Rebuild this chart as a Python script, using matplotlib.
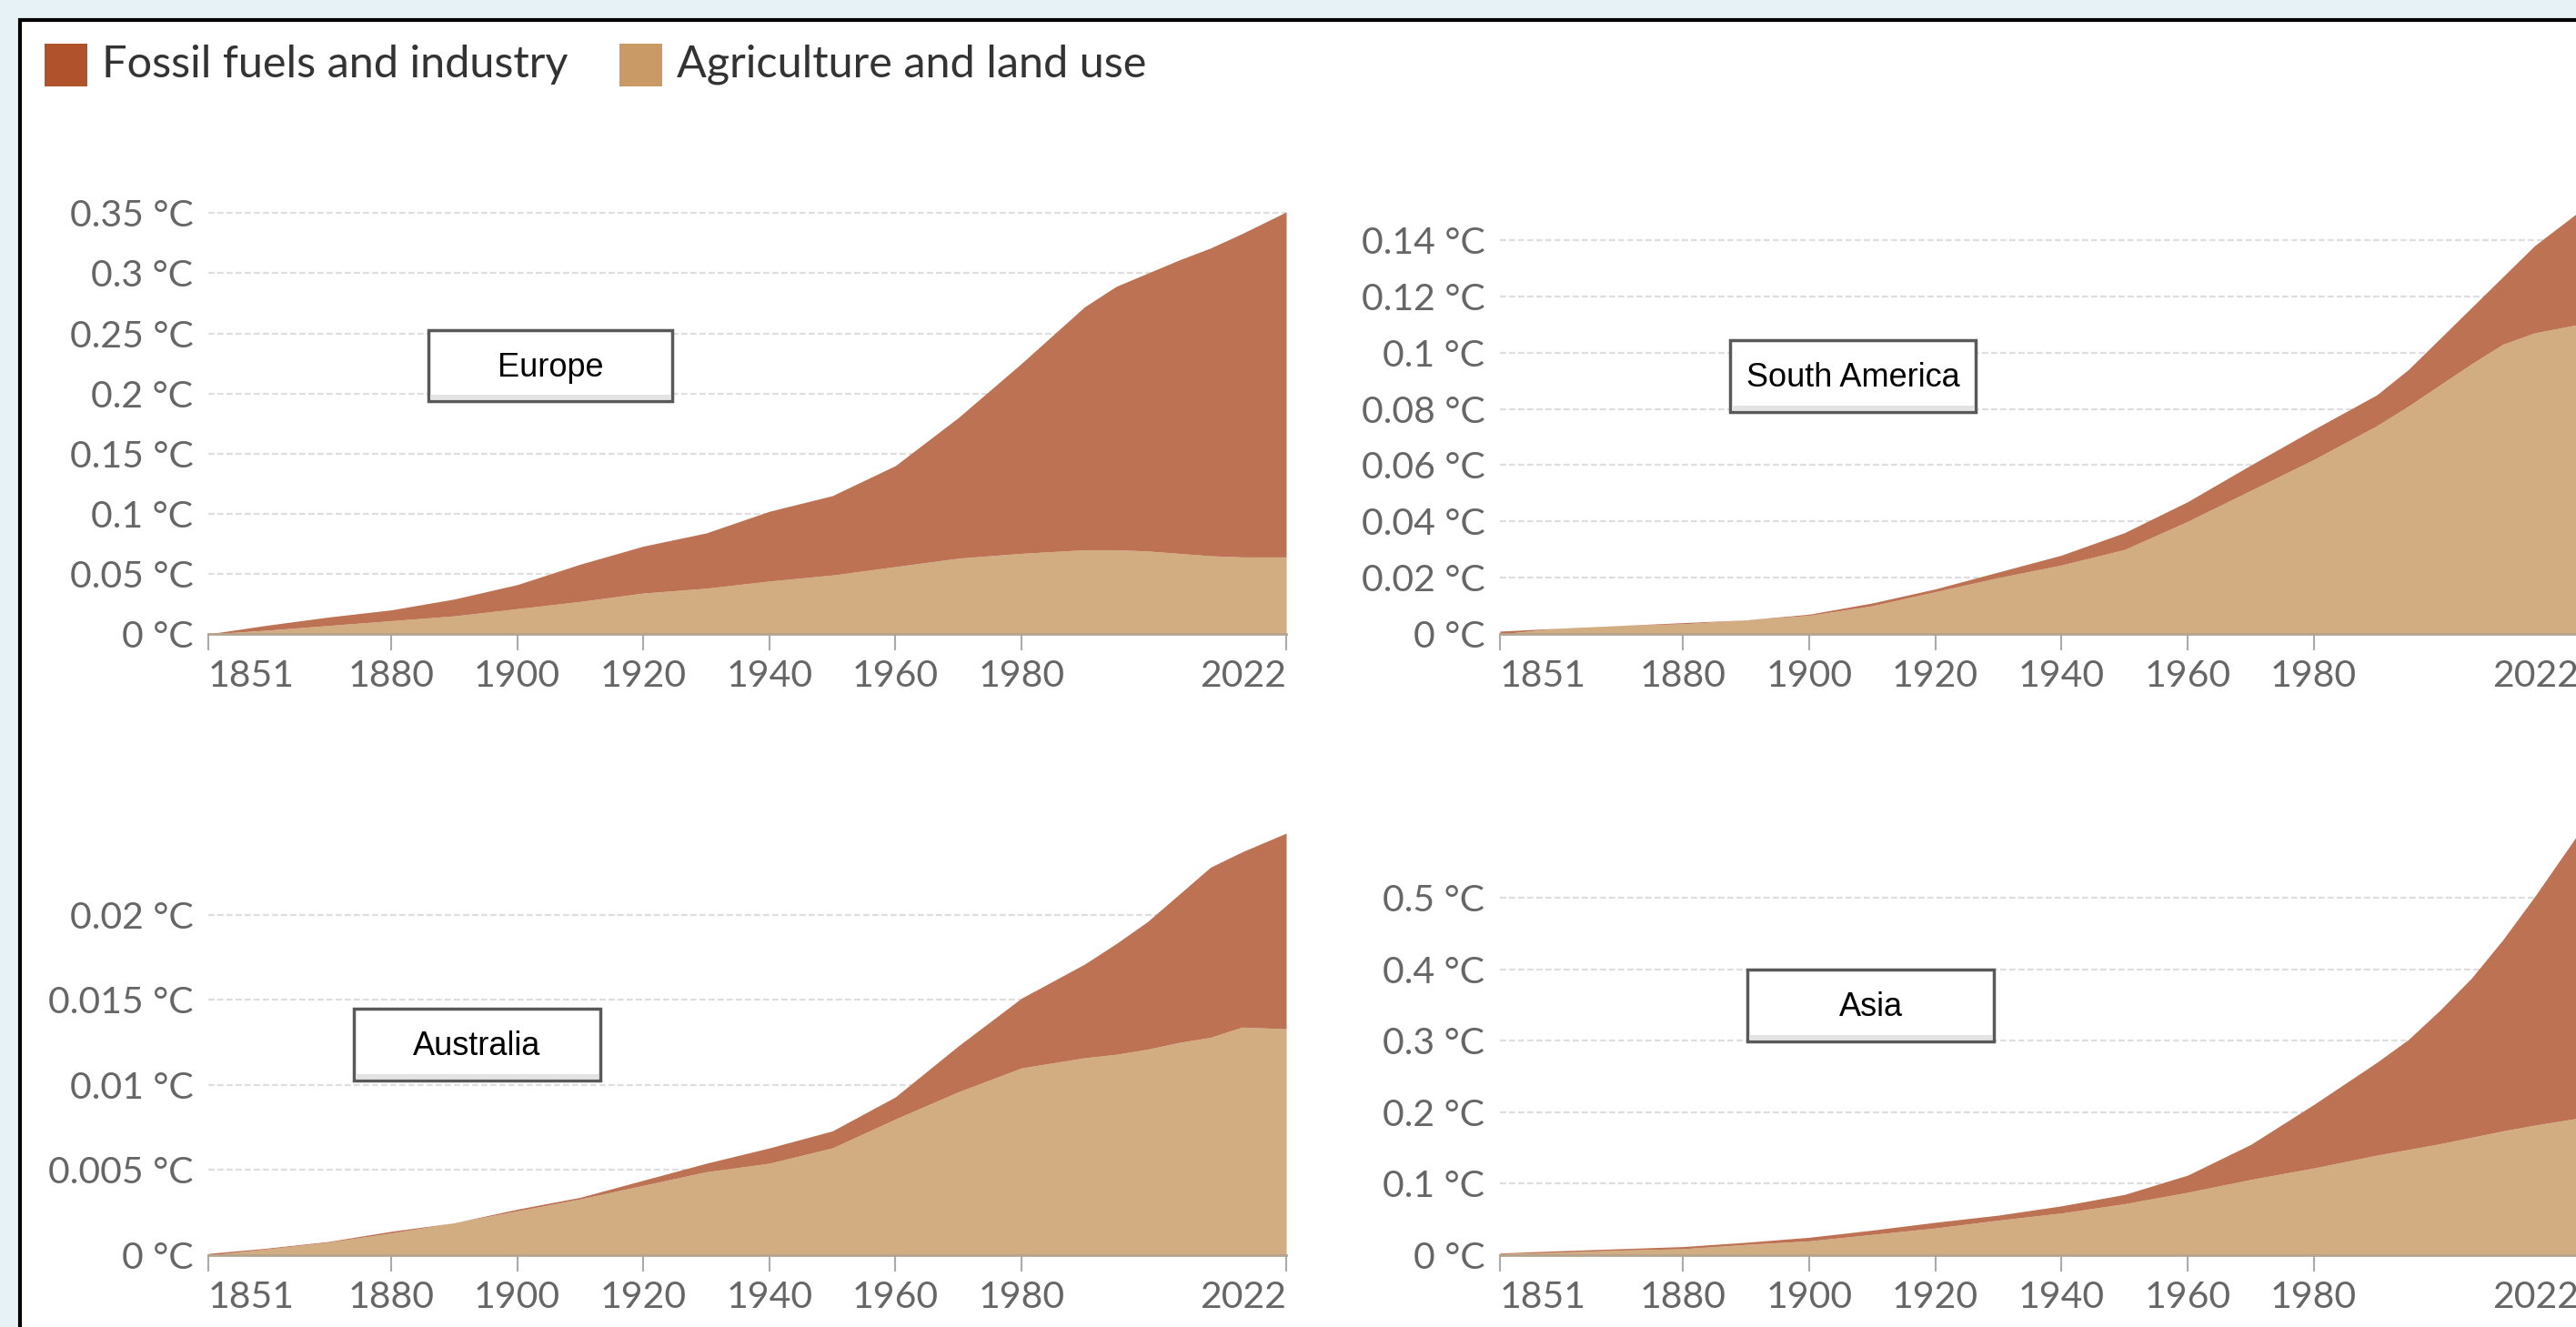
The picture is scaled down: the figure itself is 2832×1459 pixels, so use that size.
import matplotlib.pyplot as plt
from matplotlib.patches import Rectangle
from matplotlib.ticker import FuncFormatter

# Data (cumulative warming, °C)
years = [1851, 1860, 1870, 1880, 1890, 1900, 1910, 1920, 1930, 1940,
         1950, 1960, 1970, 1980, 1990, 1995, 2000, 2005, 2010, 2015, 2022]

europe_agri = [0, .003, .007, .011, .015, .021, .027, .034, .038, .044,
               .049, .056, .063, .067, .070, .070, .069, .067, .065, .064, .064]
europe_total = [0, .007, .014, .020, .029, .041, .058, .073, .084, .102,
                .115, .140, .180, .225, .272, .289, .300, .311, .321, .333, .351]

samerica_agri = [0, .002, .003, .0036, .005, .0066, .010, .015, .020, .0245,
                 .030, .040, .051, .062, .074, .081, .0885, .096, .103, .107, .110]
samerica_total = [.001, .002, .003, .004, .005, .007, .011, .016, .022, .028,
                  .036, .047, .060, .0727, .085, .094, .105, .116, .127, .138, .150]

australia_agri = [0, .00035, .00076, .0013, .0019, .0026, .0033, .0041, .0049, .0054,
                  .0063, .0080, .0096, .0110, .0116, .0118, .0121, .0125, .0128, .0134, .0133]
australia_total = [.0001, .0004, .0008, .0014, .0019, .0027, .0034, .0044, .0054, .0063,
                   .0073, .0093, .0123, .0151, .0171, .0183, .0196, .0212, .0228, .0237, .0248]

asia_agri = [.002, .004, .007, .009, .015, .020, .029, .038, .049, .059,
             .072, .088, .106, .122, .140, .148, .156, .165, .174, .182, .192]
asia_total = [.003, .006, .009, .012, .018, .025, .035, .046, .056, .069,
              .085, .112, .155, .211, .270, .302, .343, .388, .442, .502, .591]

regions = ["Europe", "South America", "Australia", "Asia"]
agri_series = [europe_agri, samerica_agri, australia_agri, asia_agri]
total_series = [europe_total, samerica_total, australia_total, asia_total]
y_ticks = [
    [0, 0.05, 0.1, 0.15, 0.2, 0.25, 0.3, 0.35],
    [0, 0.02, 0.04, 0.06, 0.08, 0.1, 0.12, 0.14],
    [0, 0.005, 0.01, 0.015, 0.02],
    [0, 0.1, 0.2, 0.3, 0.4, 0.5],
]
year_ticks = [1851, 1880, 1900, 1920, 1940, 1960, 1980, 2022]
legend_labels = ["Fossil fuels and industry", "Agriculture and land use"]

# Colours
fossil_color = "#bd7254"
agri_color = "#d3ad82"
fossil_key = "#b0532c"
agri_key = "#c99966"

W, H = 2832, 1459


def fx(x):
    return x / W


def fy(y):
    return 1 - y / H


fig = plt.figure(figsize=(W / 100, H / 100), dpi=100)
fig.patch.set_facecolor("#e6f2f5")

# white card with black border, cut off at right and bottom
card = Rectangle((fx(22), -0.05), 1.2, fy(22) + 0.05, transform=fig.transFigure,
                 facecolor="white", edgecolor="black", lw=3, zorder=-1)
fig.add_artist(card)

# legend
for i, (label, key) in enumerate(zip(legend_labels, [fossil_key, agri_key])):
    x0 = [49, 681][i]
    fig.add_artist(Rectangle((fx(x0), fy(95)), fx(47), 47 / H, transform=fig.transFigure,
                             facecolor=key, edgecolor="none"))
    fig.text(fx(x0 + 63), fy(71), label, fontsize=35, family="Lato", color="#333333",
             va="center", ha="left")

# panel layout in pixels: left, right, baseline
panels = [
    (229, 1414, 697),
    (1649, 2835, 697),
    (229, 1414, 1380),
    (1649, 2835, 1380),
]
panel_h = 464

# label boxes in pixels: left, top, right, bottom
boxes = [
    (471, 363, 739, 441),
    (1902, 374, 2172, 453),
    (389, 1109, 660, 1188),
    (1921, 1066, 2192, 1145),
]

fmt = FuncFormatter(lambda v, p: "{:g} °C".format(round(v, 4)))

for region, agri, total, ticks, (x0, x1, yb), box in zip(
        regions, agri_series, total_series, y_ticks, panels, boxes):
    ax = fig.add_axes([fx(x0), fy(yb), (x1 - x0) / W, panel_h / H])
    ax.patch.set_alpha(0)
    ax.fill_between(years, 0, agri, color=agri_color, lw=0, zorder=2)
    ax.fill_between(years, agri, total, color=fossil_color, lw=0, zorder=2)
    ax.set_xlim(1851, 2022)
    ax.set_ylim(0, max(total))

    ax.set_yticks(ticks)
    ax.yaxis.set_major_formatter(fmt)
    ax.set_xticks(year_ticks)
    ax.set_xticklabels([str(y) for y in year_ticks])
    labels = ax.get_xticklabels()
    labels[0].set_ha("left")
    labels[-1].set_ha("right")

    ax.grid(axis="y", color="#dedede", lw=1.6, linestyle=(0, (3, 1.5)), zorder=1)
    ax.grid(axis="x", visible=False)
    for side in ["top", "right", "left"]:
        ax.spines[side].set_visible(False)
    ax.spines["bottom"].set_color("#b5a38f")
    ax.spines["bottom"].set_linewidth(2)
    ax.spines["bottom"].set_zorder(3)

    ax.tick_params(axis="y", length=0, pad=12, labelsize=29.5, labelcolor="#666666")
    ax.tick_params(axis="x", length=13, width=1.5, color="#aaaaaa", pad=7,
                   labelsize=29.5, labelcolor="#666666")
    for lab in ax.get_xticklabels() + ax.get_yticklabels():
        lab.set_family("Lato")

    # region label box
    bl, bt, br, bb = box
    fig.add_artist(Rectangle((fx(bl), fy(bb)), (br - bl) / W, (bb - bt) / H,
                             transform=fig.transFigure, facecolor="white",
                             edgecolor="#595959", lw=2.5, zorder=5))
    fig.add_artist(Rectangle((fx(bl + 2), fy(bb - 2)), (br - bl - 4) / W, 5 / H,
                             transform=fig.transFigure, facecolor="#e3e3e3",
                             edgecolor="none", zorder=6))
    fig.text(fx((bl + br) / 2), fy((bt + bb) / 2 + 2), region, fontsize=26,
             family="Liberation Sans", color="black", ha="center", va="center", zorder=7)

fig.savefig("out.png", dpi=100, facecolor=fig.get_facecolor())
